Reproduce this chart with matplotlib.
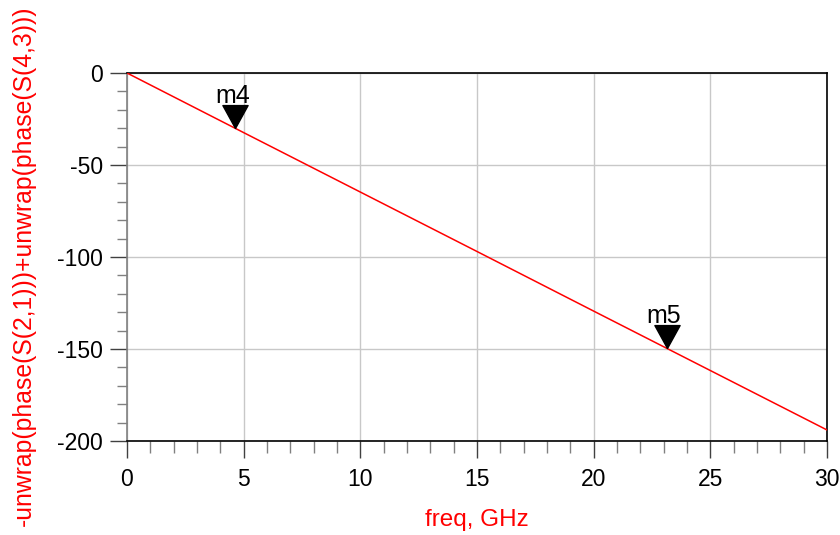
import numpy as np
import matplotlib.pyplot as plt
from matplotlib.path import Path

# values
freq = [0, 5, 10, 15, 20, 25, 30]
phase = [0, -32.4, -64.7, -97.0, -129.4, -161.7, -194.0]

marker_names = ['m4', 'm5']
marker_freq = [4.63, 23.13]
marker_phase = [-30.0, -149.7]

x_ticks = [0, 5, 10, 15, 20, 25, 30]
y_ticks = [0, -50, -100, -150, -200]


def draw_markers(ax):
    # downward triangle with its tip on the data point
    tri = Path([(-0.55, 1.0), (0.55, 1.0), (0.0, 0.0), (-0.55, 1.0)],
               [Path.MOVETO, Path.LINETO, Path.LINETO, Path.CLOSEPOLY])
    for name, f, p in zip(marker_names, marker_freq, marker_phase):
        ax.plot([f], [p], marker=tri, markersize=33, color='black',
                linestyle='none', zorder=5, clip_on=False)
        ax.annotate(name, (f, p), xytext=(-2, 18.5), textcoords='offset points',
                    ha='center', va='baseline', fontsize=18, zorder=6)


def main():
    plt.rcParams['font.family'] = ['Liberation Sans', 'DejaVu Sans']
    plt.rcParams['axes.unicode_minus'] = False
    fig = plt.figure(figsize=(8.4, 5.35), dpi=100)
    ax = fig.add_axes([127 / 840, 94 / 535, 700 / 840, 368 / 535])

    ax.plot(freq, phase, color='red', linewidth=1.1, zorder=3)
    draw_markers(ax)

    ax.set_xlim(0, 30)
    ax.set_ylim(-200, 0)
    ax.set_xticks(x_ticks)
    ax.set_yticks(y_ticks)
    ax.set_xticks(np.arange(0, 30.1, 1), minor=True)
    ax.set_yticks(np.arange(-200, 0.1, 10), minor=True)

    ax.grid(True, which='major', color='#c8c8c8', linewidth=1.0)
    ax.tick_params(which='major', direction='out', length=12.5, width=1,
                   color='#404040', labelsize=16.5, pad=5)
    ax.tick_params(which='minor', direction='out', length=7, width=1,
                   color='#808080')
    ax.tick_params(axis='x', which='major', pad=7)
    ax.tick_params(axis='x', which='minor', length=8.5)

    for side in ['top', 'right', 'bottom']:
        ax.spines[side].set_color('black')
        ax.spines[side].set_linewidth(1.2)
    ax.spines['left'].set_color('#808080')
    ax.spines['left'].set_linewidth(1.2)

    ax.set_xlabel('freq, GHz', color='red', fontsize=17.5, va='baseline')
    ax.xaxis.set_label_coords(0.5, -0.231)
    ax.set_ylabel('-unwrap(phase(S(2,1)))+unwrap(phase(S(4,3)))',
                  color='red', fontsize=17.8, va='baseline')
    ax.yaxis.set_label_coords(-0.137, 0.4755)

    fig.savefig('out.png', dpi=100)


if __name__ == "__main__":
    main()
